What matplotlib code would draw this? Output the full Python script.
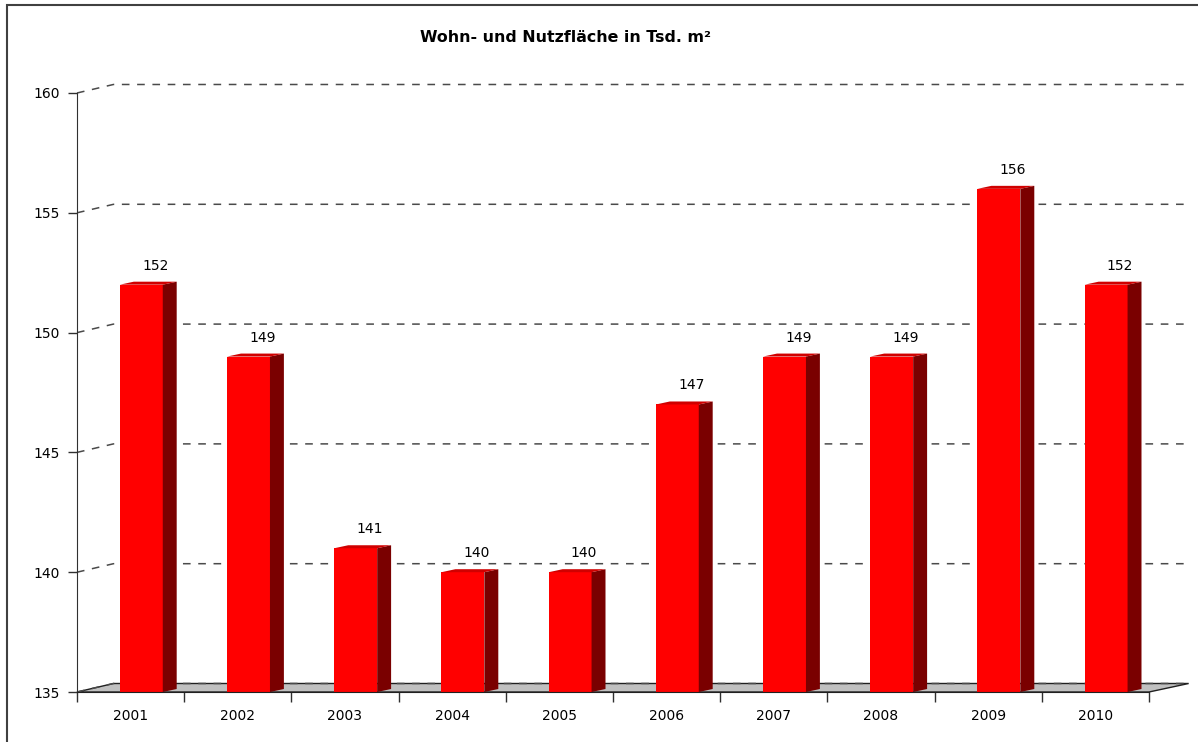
import matplotlib
matplotlib.use('Agg')

import matplotlib.pyplot as plt
from matplotlib.patches import Polygon, Rectangle

# data
years = ['2001', '2002', '2003', '2004', '2005', '2006', '2007', '2008', '2009', '2010']
values = [152, 149, 141, 140, 140, 147, 149, 149, 156, 152]
y_ticks = [135, 140, 145, 150, 155, 160]
title = "Wohn- und Nutzfläche in Tsd. m²"

ymin, ymax = 135, 160

# 3d look: depth of back wall and of each bar (data units)
wall_dx, wall_dy = 0.34, 0.355
bar_dx, bar_dy = 0.13, 0.125
bar_off, bar_w = 0.10, 0.40

front = '#ff0000'
side = '#7a0000'
top = '#d00000'

plt.rcParams['font.family'] = 'DejaVu Sans'

fig = plt.figure(figsize=(11.98, 7.42), dpi=100)
ax = fig.add_axes([77 / 1198, 50 / 742, 1072 / 1198, 599 / 742])
ax.set_xlim(-0.5, len(years) - 0.5)
ax.set_ylim(ymin, ymax)

# floor
n = len(years)
floor = Polygon([(-0.5, ymin), (n - 0.5, ymin), (n - 0.5 + wall_dx + 0.03, ymin + wall_dy),
                 (-0.5 + wall_dx, ymin + wall_dy)], closed=True,
                facecolor='#c0c0c0', edgecolor='#202020', lw=1.0, zorder=1, clip_on=False)
ax.add_patch(floor)

# gridlines on back wall with diagonal to the axis
for yv in y_ticks:
    ax.plot([-0.5, -0.5 + wall_dx, n - 0.5 + wall_dx], [yv, yv + wall_dy, yv + wall_dy],
            color='#4a4a4a', lw=1.1, ls=(0, (5, 5)), zorder=1.5, clip_on=False)

# bars
xs = [i + bar_off for i in range(n)]
ax.bar(xs, [v - ymin for v in values], bottom=ymin, width=bar_w, color=front,
       edgecolor='none', zorder=3)
for x, v in zip(xs, values):
    xl = x - bar_w / 2
    xr = x + bar_w / 2
    ax.add_patch(Polygon([(xr, ymin), (xr + bar_dx, ymin + bar_dy), (xr + bar_dx, v + bar_dy), (xr, v)],
                         closed=True, facecolor=side, edgecolor='none', zorder=3))
    ax.add_patch(Polygon([(xl, v), (xr, v), (xr + bar_dx, v + bar_dy), (xl + bar_dx, v + bar_dy)],
                         closed=True, facecolor=top, edgecolor='none', zorder=3))
    ax.annotate(str(v), xy=(x + 0.13, v + bar_dy), xytext=(0, 9), textcoords='offset pixels',
                ha='center', va='bottom', fontsize=10, color='black', zorder=4)

# axes styling
for s in ['top', 'right']:
    ax.spines[s].set_visible(False)
ax.spines['left'].set_color('#303030')
ax.spines['bottom'].set_color('#202020')
ax.spines['left'].set_zorder(5)
ax.spines['bottom'].set_zorder(5)

ax.set_yticks(y_ticks)
ax.set_yticklabels([str(t) for t in y_ticks], fontsize=10)
ax.tick_params(axis='y', direction='out', length=6.5, width=1, pad=6, color='#303030')

ax.set_xticks([i - 0.5 for i in range(n + 1)], minor=False)
ax.set_xticklabels([''] * (n + 1))
ax.set_xticks(range(n), minor=True)
ax.set_xticklabels(years, minor=True, fontsize=10)
ax.tick_params(axis='x', which='major', direction='out', length=7.5, width=1, color='#303030')
ax.tick_params(axis='x', which='minor', length=0, pad=12)

ax.patch.set_visible(False)

fig.text(565 / 1198, 1 - 37 / 742, title, ha='center', va='center', fontsize=11.4, fontweight='bold')

# outer frame (only left and top visible)
fig.patches.append(Rectangle((7 / 1198, -0.05), 1.1, 1 - 5 / 742 + 0.05, transform=fig.transFigure,
                             fill=False, edgecolor='#404040', lw=1.5))

plt.savefig('out.png', dpi=100)
plt.close()
